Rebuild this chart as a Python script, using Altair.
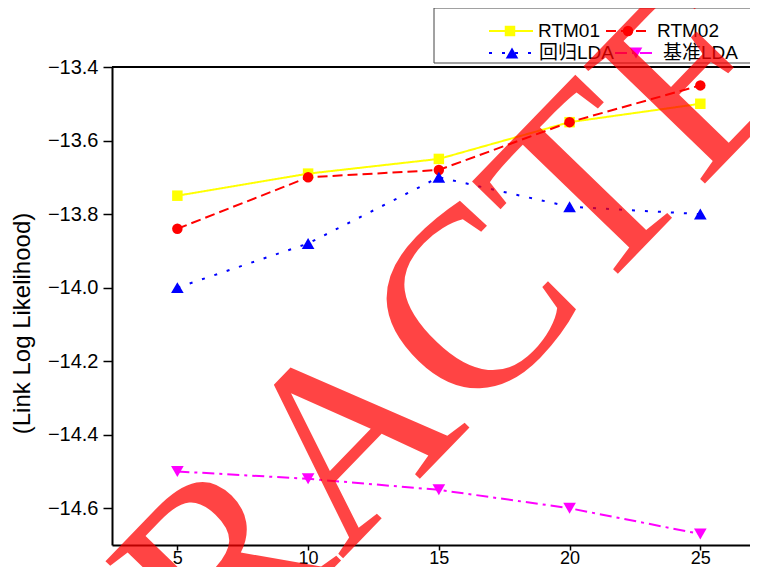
import altair as alt
import pandas as pd

# ---- data ----
x_vals = [5, 10, 15, 20, 25]
series_names = ["RTM01", "RTM02", "回归LDA", "基准LDA"]
rtm01 = [-13.75, -13.69, -13.65, -13.55, -13.50]
rtm02 = [-13.84, -13.70, -13.68, -13.55, -13.45]
reg_lda = [-14.00, -13.88, -13.70, -13.78, -13.80]
base_lda = [-14.50, -14.52, -14.55, -14.60, -14.67]
y_ticks = [-14.6, -14.4, -14.2, -14.0, -13.8, -13.6, -13.4]
x_ticks = [5, 10, 15, 20, 25]
y_title = "(Link Log Likelihood)"
watermark = "RETRACTED"

series_values = [rtm01, rtm02, reg_lda, base_lda]

# ---- styles ----
colors = ["#FFFF00", "#FF0000", "#0000FF", "#FF00FF"]
dashes = [[1, 0], [10, 5], [3, 10], [12, 5, 3, 5]]
shapes = ["square", "circle", "triangle-up", "triangle-down"]
sizes = [110, 110, 160, 160]

FONT = "Liberation Sans, Arial, Noto Sans CJK SC, sans-serif"
W, H = 638, 478

x_enc = alt.X(
    "x:Q",
    scale=alt.Scale(domain=[2.5, 26.9], nice=False, zero=False),
    axis=alt.Axis(
        values=x_ticks,
        title=None,
        format="d",
        tickSize=5,
        labelBaseline="alphabetic",
        labelPadding=13,
        labelFontSize=18,
    ),
)
y_enc = alt.Y(
    "y:Q",
    scale=alt.Scale(domain=[-14.7, -13.4], nice=False, zero=False),
    axis=alt.Axis(
        values=y_ticks,
        format=".1f",
        title=y_title,
        titleFontSize=24,
        titleFontWeight="normal",
        titleFont=FONT,
        titleX=-78,
        titleY=256,
        tickSize=9,
        labelPadding=5,
        labelFontSize=20,
    ),
)

layers = []
for name, vals, c, d, sh, sz in zip(series_names, series_values, colors, dashes, shapes, sizes):
    df = pd.DataFrame({"x": x_vals, "y": vals, "series": name})
    base = alt.Chart(df)
    layers.append(base.mark_line(color=c, strokeWidth=2, strokeDash=d).encode(x=x_enc, y=y_enc))
    layers.append(
        base.mark_point(shape=sh, filled=True, color=c, size=sz, opacity=1).encode(x=x_enc, y=y_enc)
    )

one = pd.DataFrame({"k": [0]})

# top frame line of the plot
layers.append(
    alt.Chart(one).mark_rule(color="black", strokeWidth=2).encode(
        x=alt.value(0), x2=alt.value(W + 20), y=alt.value(0)
    )
)

# legend box
layers.append(
    alt.Chart(one).mark_rect(fill="white", stroke="#444444", strokeWidth=1).encode(
        x=alt.value(322), x2=alt.value(W + 20), y=alt.value(-59), y2=alt.value(-4)
    )
)

# legend items: (line x1, line x2, marker x, label x, row y)
leg_layout = [
    (377, 421, 398, 426, -36),
    (494, 538, 516, 545, -36),
    (377, 421, 400, 427, -14),
    (503, 545, 524, 551, -14),
]
for name, c, d, sh, sz, (lx1, lx2, mx, tx, ry) in zip(series_names, colors, dashes, shapes, sizes, leg_layout):
    layers.append(
        alt.Chart(one).mark_rule(color=c, strokeWidth=2, strokeDash=d).encode(
            x=alt.value(lx1), x2=alt.value(lx2), y=alt.value(ry)
        )
    )
    layers.append(
        alt.Chart(one).mark_point(shape=sh, filled=True, color=c, size=sz, opacity=1).encode(
            x=alt.value(mx), y=alt.value(ry)
        )
    )
    layers.append(
        alt.Chart(one).mark_text(
            text=name, align="left", baseline="middle", fontSize=19, font=FONT, color="black"
        ).encode(x=alt.value(tx), y=alt.value(ry))
    )

# watermark
layers.append(
    alt.Chart(one).mark_text(
        text=watermark,
        font="Liberation Serif, Times New Roman, serif",
        fontSize=258,
        color="#FF0000",
        opacity=0.73,
        angle=314,
        align="center",
        baseline="alphabetic",
    ).encode(x=alt.value(299), y=alt.value(421))
)

chart = (
    alt.layer(*layers)
    .properties(
        width=W,
        height=H,
        autosize=alt.AutoSizeParams(type="none"),
        padding={"left": 104, "top": 59, "right": 0, "bottom": 22},
    )
    .configure_view(stroke=None)
    .configure_axis(
        grid=False,
        domainColor="black",
        domainWidth=2,
        tickColor="black",
        tickWidth=1.5,
        labelFont=FONT,
        labelColor="black",
        titleColor="black",
    )
)

chart.save("out.html", embed_options={"renderer": "svg", "actions": False})
